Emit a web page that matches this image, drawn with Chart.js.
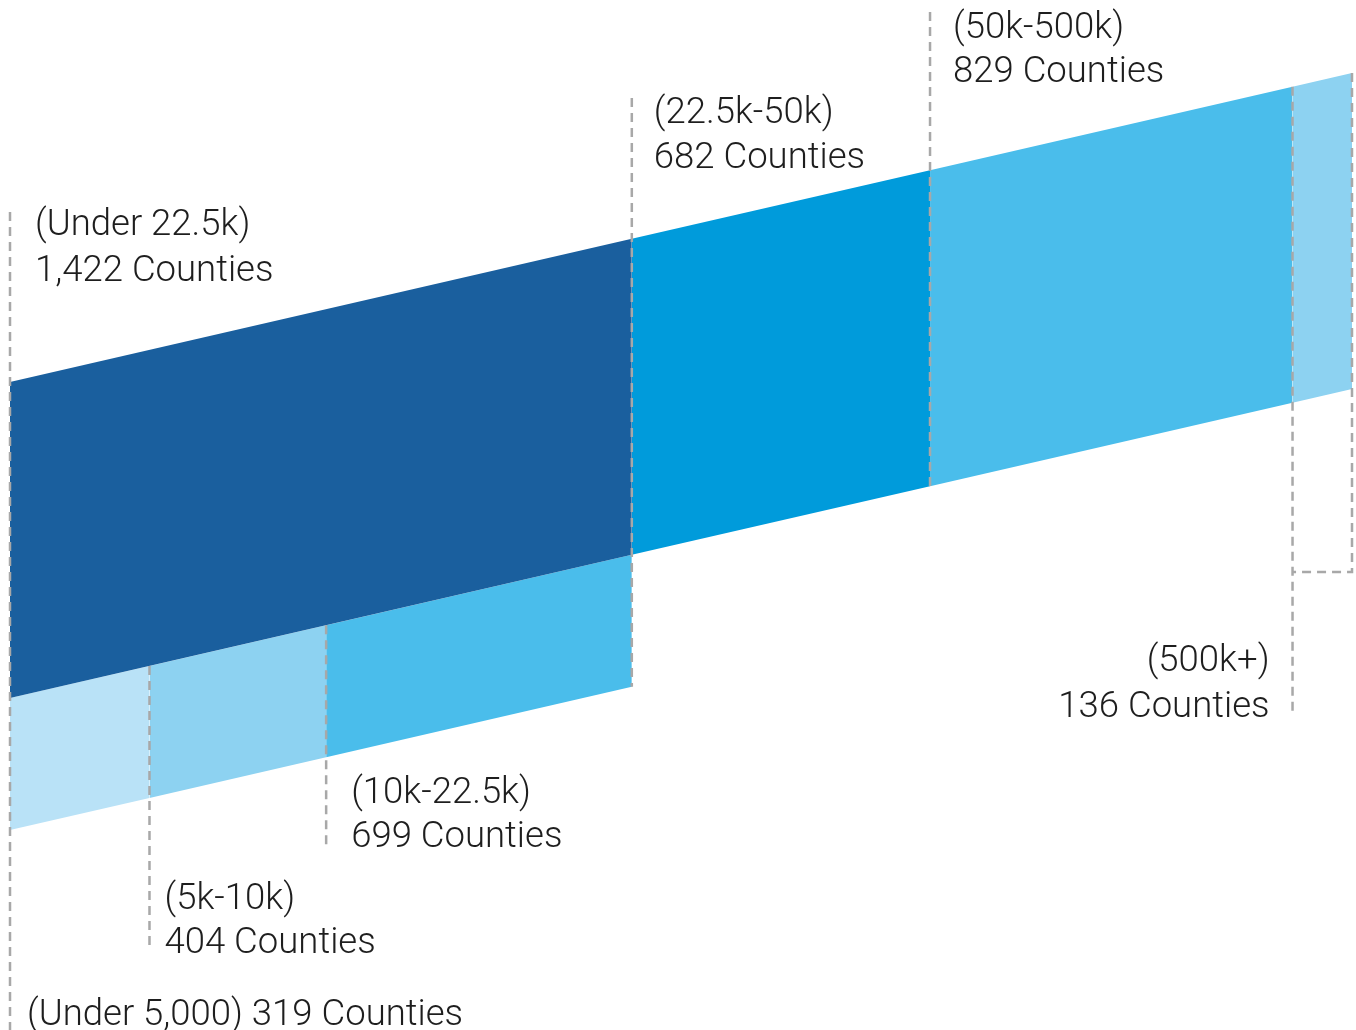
<!DOCTYPE html>
<html>
<head>
<meta charset="utf-8">
<script src="https://cdn.jsdelivr.net/npm/chart.js@4.4.1/dist/chart.umd.min.js"></script>
<style>
  html, body { margin: 0; padding: 0; background: #fff; }
  #wrap { width: 1356px; height: 1030px; position: relative; }
</style>
</head>
<body>
<div id="wrap"><canvas id="countyChart"></canvas></div>
<script>
// Counties grouped by population size
const upperCategories = ['(Under 22.5k)', '(22.5k-50k)', '(50k-500k)', '(500k+)'];
const upperCounts = [1422, 682, 829, 136];
const lowerCategories = ['(Under 5,000)', '(5k-10k)', '(10k-22.5k)'];
const lowerCounts = [319, 404, 699];

const upperColors = ['#1a5f9e', '#009bdb', '#4abdeb', '#8dd2f1'];
const lowerColors = ['#b9e2f7', '#8dd2f1', '#4abdeb'];

// band geometry (y axis runs in page pixels, top down)
const TOP_START = 382;      // top edge of the upper band at x = 0 counts
const RISE = 0.1007;        // how much the band climbs per county
const UPPER_H = 316;
const LOWER_H = 132;

const total = upperCounts.reduce((a, b) => a + b, 0);
const upperTop = c => TOP_START - RISE * c;
const upperBottom = c => upperTop(c) + UPPER_H;
const lowerBottom = c => upperBottom(c) + LOWER_H;

function cumulative(arr) {
    const out = [0];
    arr.forEach(v => out.push(out[out.length - 1] + v));
    return out;
}
const upperEdges = cumulative(upperCounts);
const lowerEdges = cumulative(lowerCounts);

// builds two datasets per segment: the top edge filled down to the bottom edge
function bandSets(edges, colors, topFn, botFn) {
    const sets = [];
    for (let i = 0; i < edges.length - 1; i++) {
        const a = edges[i], b = edges[i + 1];
        sets.push({
            data: [{ x: a, y: topFn(a) }, { x: b, y: topFn(b) }],
            backgroundColor: colors[i], borderWidth: 0, pointRadius: 0,
            fill: '+1', order: 2
        });
        sets.push({
            data: [{ x: a, y: botFn(a) }, { x: b, y: botFn(b) }],
            borderWidth: 0, pointRadius: 0, fill: false, order: 2
        });
    }
    return sets;
}

// dashed leader lines
const leaders = [
    [[0, 212], [0, 1030]],
    [[lowerEdges[1], upperBottom(lowerEdges[1])], [lowerEdges[1], 950]],
    [[lowerEdges[2], upperBottom(lowerEdges[2])], [lowerEdges[2], 848]],
    [[upperEdges[1], 98], [upperEdges[1], lowerBottom(upperEdges[1])]],
    [[upperEdges[2], 12], [upperEdges[2], upperBottom(upperEdges[2])]],
    [[upperEdges[3], upperTop(upperEdges[3])], [upperEdges[3], 716]],
    [[total, upperTop(total)], [total, 572], [upperEdges[3], 572]]
];
const dashSets = leaders.map(pts => ({
    data: pts.map(p => ({ x: p[0], y: p[1] })),
    borderColor: '#a8a8a8', borderWidth: 2.5, borderDash: [9, 6],
    pointRadius: 0, fill: false, order: 1
}));

const datasets = [
    ...bandSets(upperEdges, upperColors, upperTop, upperBottom),
    ...bandSets(lowerEdges, lowerColors, upperBottom, lowerBottom),
    ...dashSets
];

const fmt = n => n.toLocaleString('en-US') + ' Counties';

// label placement: anchor edge, pixel offset, line centres
const labels = [
    { at: upperEdges[0], dx: 25, ys: [222, 268], lines: [upperCategories[0], fmt(upperCounts[0])] },
    { at: upperEdges[1], dx: 22, ys: [110, 155], lines: [upperCategories[1], fmt(upperCounts[1])] },
    { at: upperEdges[2], dx: 23, ys: [25, 69], lines: [upperCategories[2], fmt(upperCounts[2])] },
    { at: upperEdges[3], dx: -23, ys: [658, 704], lines: [upperCategories[3], fmt(upperCounts[3])], right: true },
    { at: lowerEdges[0], dx: 17, ys: [1012], lines: [lowerCategories[0] + ' ' + fmt(lowerCounts[0])] },
    { at: lowerEdges[1], dx: 15, ys: [896, 940], lines: [lowerCategories[1], fmt(lowerCounts[1])] },
    { at: lowerEdges[2], dx: 25, ys: [790, 834], lines: [lowerCategories[2], fmt(lowerCounts[2])] }
];

const labelPlugin = {
    id: 'bandLabels',
    afterDatasetsDraw(chart) {
        const ctx = chart.ctx;
        const xs = chart.scales.x, ys = chart.scales.y;
        ctx.save();
        ctx.font = '300 36.5px Roboto';
        ctx.fillStyle = '#1e1e1e';
        ctx.textBaseline = 'alphabetic';
        labels.forEach(l => {
            ctx.textAlign = l.right ? 'right' : 'left';
            const x = xs.getPixelForValue(l.at) + l.dx;
            l.lines.forEach((t, i) => {
                ctx.fillText(t, x, ys.getPixelForValue(l.ys[i]) + 12.5);
            });
        });
        ctx.restore();
    }
};

const pxPerCount = 1342 / total;
new Chart(document.getElementById('countyChart'), {
    type: 'scatter',
    data: { datasets: datasets },
    options: {
        responsive: true,
        maintainAspectRatio: false,
        animation: false,
        devicePixelRatio: 1,
        showLine: true,
        layout: { padding: 0 },
        plugins: { legend: { display: false }, tooltip: { enabled: false } },
        scales: {
            x: { type: 'linear', display: false, min: -10 / pxPerCount, max: total + 4 / pxPerCount },
            y: { type: 'linear', display: false, min: 0, max: 1030, reverse: true }
        }
    },
    plugins: [labelPlugin]
});
</script>
</body>
</html>
